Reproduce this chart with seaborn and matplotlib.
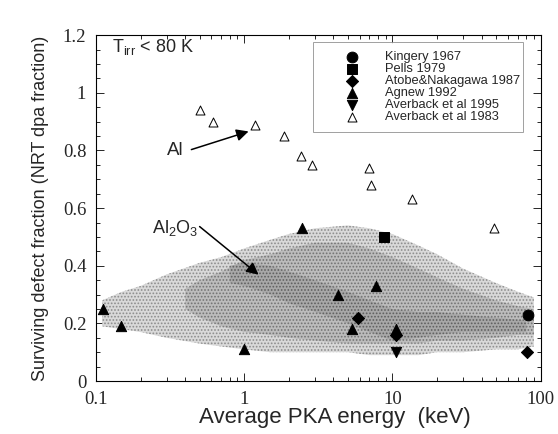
import numpy as np
import pandas as pd
import matplotlib
matplotlib.use("Agg")
import matplotlib.pyplot as plt
import seaborn as sns

# ---- data ----
kingery_x = [82.0]
kingery_y = [0.23]

pells_x = [8.8]
pells_y = [0.50]

atobe_x = [5.9, 10.6, 81.0]
atobe_y = [0.22, 0.16, 0.10]

agnew_x = [0.112, 0.147, 1.0, 2.47, 4.3, 5.3, 7.8, 10.6]
agnew_y = [0.25, 0.19, 0.11, 0.53, 0.30, 0.18, 0.33, 0.18]

averback95_x = [10.6]
averback95_y = [0.10]

averback83_x = [0.50, 0.62, 1.18, 1.85, 2.43, 2.88, 7.0, 7.2, 13.5, 48.5]
averback83_y = [0.94, 0.90, 0.89, 0.85, 0.78, 0.75, 0.74, 0.68, 0.63, 0.53]

# Al2O3 MD scatter cloud envelopes (outer, middle, core)
band_x = [0.11, 0.15, 0.2, 0.3, 0.5, 0.7, 1, 1.5, 2, 3, 5, 7, 10, 15, 20, 30, 50, 70, 90]
outer_hi = [0.28, 0.31, 0.33, 0.37, 0.41, 0.43, 0.46, 0.49, 0.51, 0.53, 0.54, 0.53, 0.51, 0.47, 0.44, 0.39, 0.34, 0.31, 0.29]
outer_lo = [0.19, 0.18, 0.17, 0.15, 0.13, 0.12, 0.11, 0.10, 0.10, 0.10, 0.10, 0.09, 0.09, 0.09, 0.10, 0.10, 0.11, 0.11, 0.12]
mid_x = [0.4, 0.5, 0.7, 1, 1.5, 2, 3, 5, 7, 10, 15, 20, 30, 50, 70, 90]
mid_hi = [0.32, 0.35, 0.38, 0.42, 0.44, 0.46, 0.48, 0.48, 0.46, 0.43, 0.39, 0.36, 0.32, 0.28, 0.26, 0.25]
mid_lo = [0.25, 0.22, 0.19, 0.17, 0.16, 0.15, 0.14, 0.13, 0.13, 0.13, 0.13, 0.14, 0.14, 0.15, 0.16, 0.16]
core_x = [0.8, 1, 1.5, 2, 3, 5, 7, 10, 15, 20, 30, 50, 80]
core_hi = [0.40, 0.41, 0.40, 0.38, 0.35, 0.31, 0.28, 0.25, 0.24, 0.24, 0.23, 0.22, 0.21]
core_lo = [0.34, 0.33, 0.30, 0.27, 0.24, 0.20, 0.17, 0.14, 0.15, 0.16, 0.17, 0.17, 0.17]

sns.set_style("ticks")
plt.rcParams["hatch.linewidth"] = 0.8

fig = plt.figure(figsize=(5.58, 4.34), dpi=100)
ax = fig.add_axes([0.172, 0.122, 0.797, 0.797])

# stippled cloud
ax.fill_between(band_x, outer_lo, outer_hi, facecolor="#d9d9d9", edgecolor="#8c8c8c",
                hatch=".....", linewidth=0, zorder=1)
ax.fill_between(mid_x, mid_lo, mid_hi, facecolor="#bcbcbc", edgecolor="#737373",
                hatch=".....", linewidth=0, zorder=1)
ax.fill_between(core_x, core_lo, core_hi, facecolor="#a8a8a8", edgecolor="#5e5e5e",
                hatch=".....", linewidth=0, zorder=1)

series = [
    (kingery_x, kingery_y, "o", "black", 60, "Kingery 1967"),
    (pells_x, pells_y, "s", "black", 55, "Pells 1979"),
    (atobe_x, atobe_y, "D", "black", 38, "Atobe&Nakagawa 1987"),
    (agnew_x, agnew_y, "^", "black", 55, "Agnew 1992"),
    (averback95_x, averback95_y, "v", "black", 55, "Averback et al 1995"),
    (averback83_x, averback83_y, "^", "white", 42, "Averback et al 1983"),
]
for xs, ys, mk, fc, size, lab in series:
    sns.scatterplot(x=xs, y=ys, marker=mk, color=fc, edgecolor="black",
                    linewidth=0.7, s=size, label=lab, ax=ax, zorder=3)

ax.set_xscale("log")
ax.set_xlim(0.1, 100)
ax.set_ylim(0, 1.2)
ax.set_yticks([0, 0.2, 0.4, 0.6, 0.8, 1.0, 1.2])
ax.set_yticklabels(["0", "0.2", "0.4", "0.6", "0.8", "1", "1.2"])
ax.set_xticks([0.1, 1, 10, 100])
ax.set_xticklabels(["0.1", "1", "10", "100"])
ax.set_yticks(np.arange(0, 1.21, 0.05), minor=True)
ax.tick_params(which="both", direction="in", top=True, right=True, width=0.7)
ax.tick_params(which="major", length=6, pad=7)
ax.tick_params(which="minor", length=3)
for lbl in ax.get_xticklabels() + ax.get_yticklabels():
    lbl.set_family("Liberation Serif")
    lbl.set_fontsize(13.5)
for sp in ax.spines.values():
    sp.set_linewidth(0.8)
    sp.set_color("black")

ax.set_xlabel("Average PKA energy  (keV)", fontsize=16, family="Liberation Sans", labelpad=1)
ax.xaxis.set_label_coords(0.537, -0.075)
ax.set_ylabel("Surviving defect fraction (NRT dpa fraction)", fontsize=13,
              family="Liberation Sans", labelpad=10)

ax.text(0.128, 1.16, r"T$_{\mathregular{irr}}$ < 80 K", fontsize=13, family="Liberation Sans",
        va="center", ha="left")

ax.text(0.345, 0.80, "Al", fontsize=13.5, family="Liberation Sans", ha="center", va="center")
ax.annotate("", xy=(1.07, 0.866), xytext=(0.44, 0.803),
            arrowprops=dict(arrowstyle="-|>", color="black", lw=1.1, mutation_scale=18,
                            shrinkA=0, shrinkB=0))
ax.text(0.34, 0.532, r"Al$_{\mathregular{2}}$O$_{\mathregular{3}}$", fontsize=13,
        family="Liberation Sans", ha="center", va="center")
ax.annotate("", xy=(1.25, 0.369), xytext=(0.50, 0.536),
            arrowprops=dict(arrowstyle="-|>", color="black", lw=1.1, mutation_scale=18,
                            shrinkA=0, shrinkB=0))

leg = ax.legend(loc="upper left", bbox_to_anchor=(0.488, 0.70, 0.472, 0.28), mode="expand",
                frameon=True, fancybox=False, edgecolor="#888888",
                prop={"family": "Liberation Sans", "size": 9.3},
                labelspacing=0.0, handlelength=4.6, handletextpad=0.3,
                borderpad=0.7, borderaxespad=0)
leg.get_frame().set_linewidth(0.7)

fig.savefig("out.png", dpi=100)
